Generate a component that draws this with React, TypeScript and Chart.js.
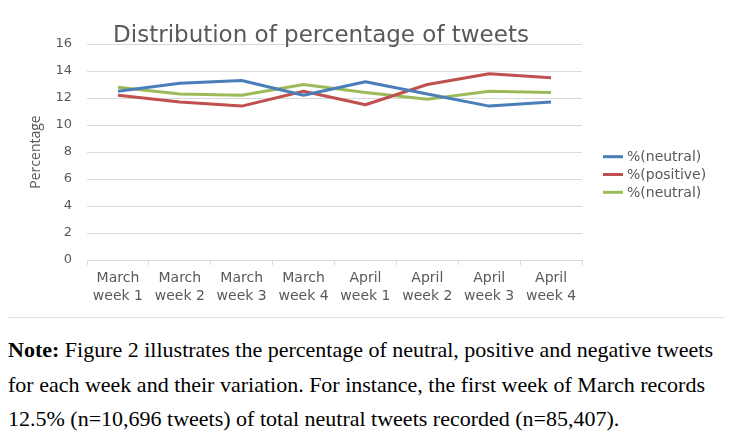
import React, { useEffect, useRef } from 'react';
import { Chart, registerables } from 'chart.js';

Chart.register(...registerables);

const categories: string[][] = [
  ['March', 'week 1'],
  ['March', 'week 2'],
  ['March', 'week 3'],
  ['March', 'week 4'],
  ['April', 'week 1'],
  ['April', 'week 2'],
  ['April', 'week 3'],
  ['April', 'week 4'],
];
const neutralA = [12.5, 13.1, 13.3, 12.2, 13.2, 12.3, 11.4, 11.7];
const positive = [12.2, 11.7, 11.4, 12.5, 11.5, 13.0, 13.8, 13.5];
const neutralB = [12.8, 12.3, 12.2, 13.0, 12.4, 11.9, 12.5, 12.4];
const seriesLabels = ['%(neutral)', '%(positive)', '%(neutral)'];
const seriesColors = ['#4a7ebb', '#c0504d', '#9bbb59'];
const yMin = 0;
const yMax = 16;
const yStep = 2;
const chartTitle = 'Distribution of percentage of tweets';
const yAxisTitle = 'Percentage';
const noteBold = 'Note:';
const noteLines = [
  ' Figure 2 illustrates the percentage of neutral, positive and negative tweets',
  'for each week and their variation. For instance, the first week of March records',
  '12.5% (n=10,696 tweets) of total neutral tweets recorded (n=85,407).',
];

const GRAY = '#595959';
const GRID = '#d9d9d9';

const decorPlugin = {
  id: 'decor',
  beforeDraw(chart: any) {
    const { ctx } = chart;
    ctx.save();
    ctx.strokeStyle = '#e2e2e2';
    ctx.lineWidth = 1;
    ctx.strokeRect(2.5, 2.5, 728, 315);
    ctx.restore();
  },
  afterDraw(chart: any) {
    const { ctx, chartArea } = chart;
    ctx.save();
    ctx.font = '23px "DejaVu Sans"';
    ctx.fillStyle = GRAY;
    ctx.textAlign = 'center';
    ctx.textBaseline = 'alphabetic';
    ctx.fillText(chartTitle, chartArea.left + 234, chartArea.top - 2);

    chart.data.datasets.forEach((ds: any, i: number) => {
      const y = chartArea.top + 112.7 + i * 17.8;
      ctx.beginPath();
      ctx.strokeStyle = ds.borderColor;
      ctx.lineWidth = 3;
      ctx.moveTo(chartArea.right + 21, y);
      ctx.lineTo(chartArea.right + 41, y);
      ctx.stroke();
      ctx.font = '14px "DejaVu Sans"';
      ctx.fillStyle = GRAY;
      ctx.textAlign = 'left';
      ctx.textBaseline = 'middle';
      ctx.fillText(ds.label, chartArea.right + 45, y + 1);
    });
    ctx.restore();
  },
};

export default function App() {
  const canvasRef = useRef<HTMLCanvasElement | null>(null);

  useEffect(() => {
    if (!canvasRef.current) return;
    const series = [neutralA, positive, neutralB];
    const chart = new Chart(canvasRef.current, {
      type: 'line',
      data: {
        labels: categories as any,
        datasets: series.map((d, i) => ({
          label: seriesLabels[i],
          data: d,
          borderColor: seriesColors[i],
          backgroundColor: seriesColors[i],
          borderWidth: 3,
          pointRadius: 0,
          pointHoverRadius: 0,
          fill: false,
          tension: 0,
          borderJoinStyle: 'round' as const,
        })),
      },
      options: {
        animation: false,
        responsive: false,
        devicePixelRatio: 1,
        layout: { padding: { left: 20, top: 44, right: 151, bottom: 0 } },
        plugins: {
          legend: { display: false },
          title: { display: false },
          tooltip: { enabled: false },
        },
        scales: {
          x: {
            type: 'category',
            offset: true,
            grid: {
              display: true,
              drawOnChartArea: false,
              drawTicks: true,
              tickLength: 5,
              color: GRID,
              offset: true,
            },
            border: { display: true, color: GRID },
            ticks: {
              color: GRAY,
              font: { family: 'DejaVu Sans', size: 14, lineHeight: '18px' },
              padding: 4,
              maxRotation: 0,
              autoSkip: false,
            },
            afterFit: (s: any) => {
              s.height = 60;
            },
          },
          y: {
            min: yMin,
            max: yMax,
            ticks: {
              stepSize: yStep,
              color: GRAY,
              font: { family: 'DejaVu Sans', size: 13 },
              padding: 15,
            },
            grid: { color: GRID, drawTicks: false },
            border: { display: false },
            title: {
              display: true,
              text: yAxisTitle,
              color: GRAY,
              font: { family: 'Open Sans', size: 14 },
              padding: { top: 8, bottom: 0 },
            },
            afterFit: (s: any) => {
              s.width = 67;
            },
          },
        },
      },
      plugins: [decorPlugin],
    });
    return () => chart.destroy();
  }, []);

  return (
    <div style={{ position: 'relative', width: 733, height: 446, margin: -8, background: '#fff' }}>
      <canvas
        ref={canvasRef}
        width={733}
        height={320}
        style={{ position: 'absolute', left: 0, top: 0, width: 733, height: 320 }}
      />
      <div
        style={{
          position: 'absolute',
          left: 8,
          top: 333,
          fontFamily: '"Liberation Serif", "Times New Roman", serif',
          fontSize: 22,
          lineHeight: '34.5px',
          color: '#000',
          whiteSpace: 'nowrap',
        }}
      >
        <b>{noteBold}</b>
        {noteLines[0]}
        <br />
        {noteLines[1]}
        <br />
        {noteLines[2]}
      </div>
    </div>
  );
}
